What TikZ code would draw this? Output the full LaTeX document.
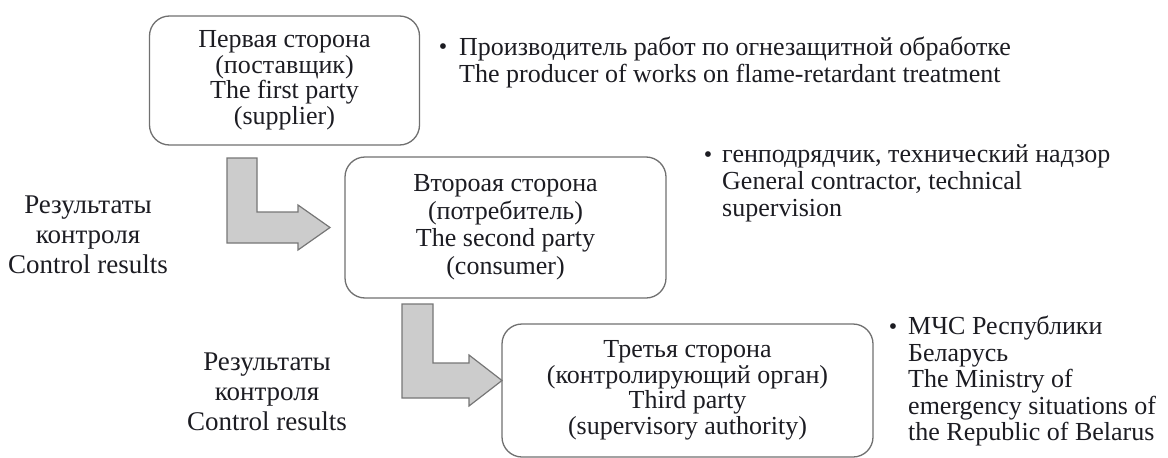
\documentclass[tikz,border=0pt]{standalone}
\usepackage{fontspec}
\setmainfont{Liberation Serif}
\definecolor{boxline}{RGB}{112,112,112}
\definecolor{arrfill}{RGB}{204,204,204}
\definecolor{arrline}{RGB}{118,118,118}
\definecolor{ink}{RGB}{28,28,34}
\tikzset{
  party/.style={draw=boxline, line width=1.3pt, rounded corners=20pt, align=center, text=ink,
    inner sep=0pt, font=\fontsize{26}{25.5}\selectfont},
  bigarrow/.style={draw=arrline, fill=arrfill, line width=1.2pt, line join=miter},
  note/.style={align=left, text=ink, inner sep=0pt, anchor=north west, font=\fontsize{26}{26.5}\selectfont},
  dot/.style={text=ink, inner sep=0pt, font=\fontsize{24}{24}\selectfont},
  result/.style={align=center, text=ink, inner sep=0pt, font=\fontsize{27}{30}\selectfont}
}
\begin{document}
\begin{tikzpicture}[x=1pt,y=-1pt]
\useasboundingbox (0,0) rectangle (1168,458);
% boxes
\node[party, minimum width=270pt, minimum height=129pt] (p1) at (284.5,80.5)
  {Первая сторона\\(поставщик)\\The first party\\(supplier)};
\node[party, minimum width=321pt, minimum height=141pt, font=\fontsize{26}{27.5}\selectfont] (p2) at (505.5,227.5)
  {Второая сторона\\(потребитель)\\The second party\\(consumer)};
\node[party, minimum width=371pt, minimum height=133pt] (p3) at (687.5,390.5)
  {Третья сторона\\(контролирующий орган)\\Third party\\(supervisory authority)};
% arrows
\coordinate (a1) at (227,158);
\coordinate (a2) at (402,304);
\draw[bigarrow] (a1) -- ++(30,0) -- ++(0,54) -- ++(41,0) -- ++(0,-7) -- ++(32,22.5)
  -- ++(-32,22.5) -- ++(0,-7) -- ++(-71,0) -- cycle;
\draw[bigarrow] (a2) -- ++(31,0) -- ++(0,59) -- ++(36,0) -- ++(0,-8) -- ++(33,25.5)
  -- ++(-33,25.5) -- ++(0,-8) -- ++(-67,0) -- cycle;
% left labels
\node[result] (r1) at (88,235) {Результаты\\контроля\\Control results};
\node[result] (r2) at (267,392) {Результаты\\контроля\\Control results};
% bullet notes
\node[dot] (b1) at (443,49) {•};
\node[note] (n1) at (459,37) {Производитель работ по огнезащитной обработке\\The producer of works on flame-retardant treatment};
\node[dot] (b2) at (708,157) {•};
\node[note, font=\fontsize{26}{27}\selectfont] (n2) at (722,144) {генподрядчик, технический надзор\\General contractor, technical\\supervision};
\node[dot] (b3) at (893,329) {•};
\node[note] (n3) at (908,316) {МЧС Республики\\Беларусь\\The Ministry of\\emergency situations of\\the Republic of Belarus};
\end{tikzpicture}
\end{document}
